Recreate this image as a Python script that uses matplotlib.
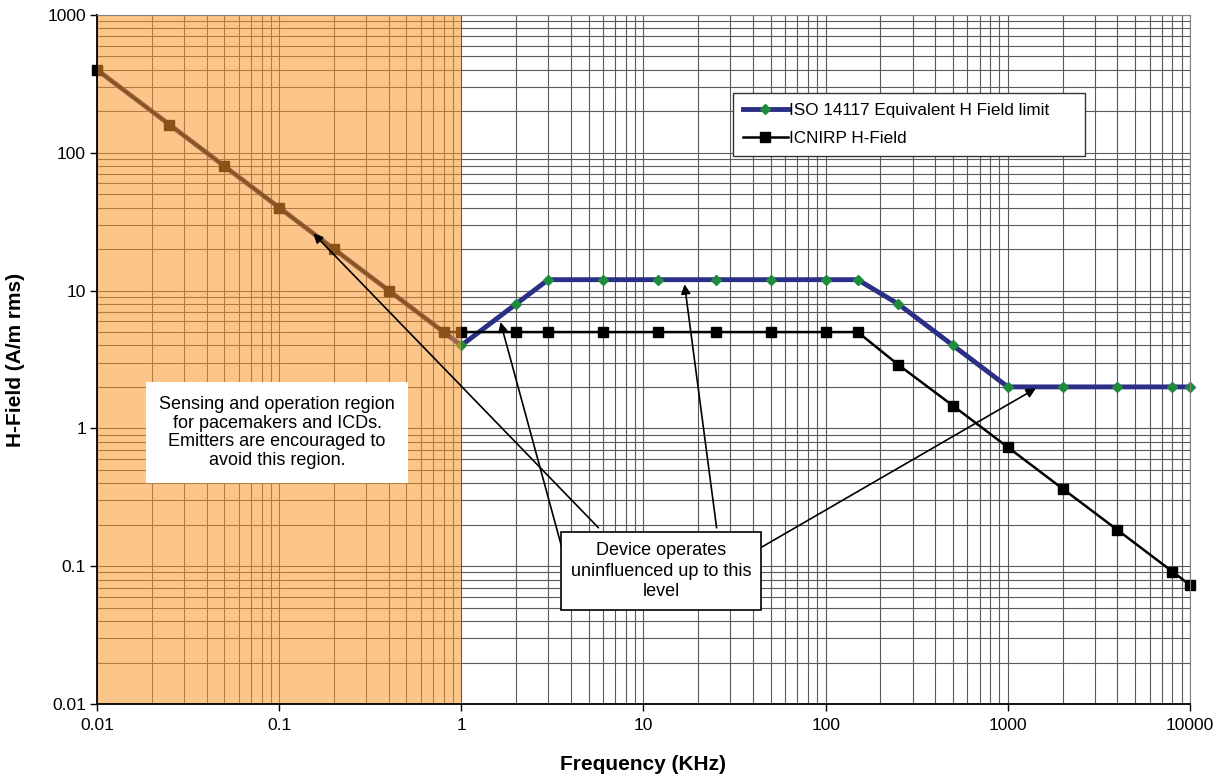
import numpy as np
import matplotlib.pyplot as plt
from matplotlib.ticker import LogLocator, NullFormatter, FuncFormatter

plt.rcParams['font.family'] = ['Liberation Sans', 'DejaVu Sans']

# data (frequency in kHz, H-field in A/m rms)
freq = [0.01, 0.025, 0.05, 0.1, 0.2, 0.4, 0.8, 1, 2, 3, 6, 12, 25, 50, 100, 150,
        250, 500, 1000, 2000, 4000, 8000, 10000]
h_iso = [400, 160, 80, 40, 20, 10, 5, 4, 8, 12, 12, 12, 12, 12, 12, 12,
         8, 4, 2, 2, 2, 2, 2]
h_icnirp = [400, 160, 80, 40, 20, 10, 5, 5, 5, 5, 5, 5, 5, 5, 5, 5,
            2.9, 1.46, 0.73, 0.365, 0.183, 0.0915, 0.073]

region = (0.01, 1)  # pacemaker sensing region
arrow_tips = [(0.154, 26), (1.64, 5.9), (16.8, 11.1), (1425, 1.95)]
arrow_starts = [(5.66, 0.19), (3.59, 0.1315), (25.2, 0.19), (43.9, 0.136)]

fig = plt.figure(figsize=(12.2, 7.76), dpi=100)
ax = fig.add_axes([0.0795, 0.0928, 0.8959, 0.8879])

ax.plot(freq, h_iso, color='#2B2F86', lw=3.5, marker='D', ms=5,
        mfc='#1E8C3C', mec='#1E8C3C', label='ISO 14117 Equivalent H Field limit',
        zorder=3, clip_on=False)
ax.plot(freq, h_icnirp, color='black', lw=1.8, marker='s', ms=7.5,
        label='ICNIRP H-Field', zorder=4, clip_on=False)

# orange overlay on top of the lines (gives the brown look)
ax.axvspan(region[0], region[1], color=(251/255, 151/255, 42/255), alpha=0.55,
           lw=0, zorder=5)

ax.set_xscale('log')
ax.set_yscale('log')
ax.set_xlim(0.01, 10000)
ax.set_ylim(0.01, 1000)

fmt = FuncFormatter(lambda v, p: '%g' % v)
for axis in (ax.xaxis, ax.yaxis):
    axis.set_major_locator(LogLocator(base=10, numticks=20))
    axis.set_minor_locator(LogLocator(base=10, subs=np.arange(2, 10), numticks=20))
    axis.set_major_formatter(fmt)
    axis.set_minor_formatter(NullFormatter())

ax.grid(True, which='both', color='#5a5a5a', lw=0.8, zorder=1)
ax.set_axisbelow(True)
ax.tick_params(which='major', direction='out', length=5, width=1, labelsize=12.5, pad=3)
ax.tick_params(axis='x', which='major', pad=5)
ax.tick_params(which='minor', length=0)

for s in ax.spines.values():
    s.set_zorder(10)
for s in ('top', 'right'):
    ax.spines[s].set_color('#808080')
ax.spines['left'].set_linewidth(1.3)
ax.spines['bottom'].set_linewidth(1.3)

ax.set_xlabel('Frequency (KHz)', fontsize=15, fontweight='bold', labelpad=16)
ax.set_ylabel('H-Field (A/m rms)', fontsize=15, fontweight='bold', labelpad=16)

# arrows from the text box to the curves
for tip, start in zip(arrow_tips, arrow_starts):
    ax.annotate('', xy=tip, xytext=start,
                arrowprops=dict(arrowstyle='-|>', color='black', lw=1.2,
                                mutation_scale=14, shrinkA=0, shrinkB=0),
                zorder=6)

ax.text(0.1647, 0.394, 'Sensing and operation region\nfor pacemakers and ICDs.\n'
        'Emitters are encouraged to\navoid this region.',
        transform=ax.transAxes, ha='center', va='center', fontsize=13,
        linespacing=1.15, zorder=7,
        bbox=dict(boxstyle='square,pad=0.75', fc='white', ec='none'))
ax.text(0.516, 0.193, 'Device operates\nuninfluenced up to this\nlevel',
        transform=ax.transAxes, ha='center', va='center', fontsize=13,
        linespacing=1.25, zorder=7,
        bbox=dict(boxstyle='square,pad=0.55', fc='white', ec='black', lw=1.2))

leg = ax.legend(loc='upper left',
                bbox_to_anchor=(733/1220, 1 - 153/776, 352/1220, 60/776),
                bbox_transform=fig.transFigure, mode='expand',
                fontsize=12.3, frameon=True,
                fancybox=False, framealpha=1, edgecolor='#333333',
                handlelength=2.6, handletextpad=0.1, borderpad=0.6,
                labelspacing=0.75, borderaxespad=0)
leg.get_frame().set_linewidth(1.0)
leg.set_zorder(10)

fig.savefig('out.png', dpi=100)
